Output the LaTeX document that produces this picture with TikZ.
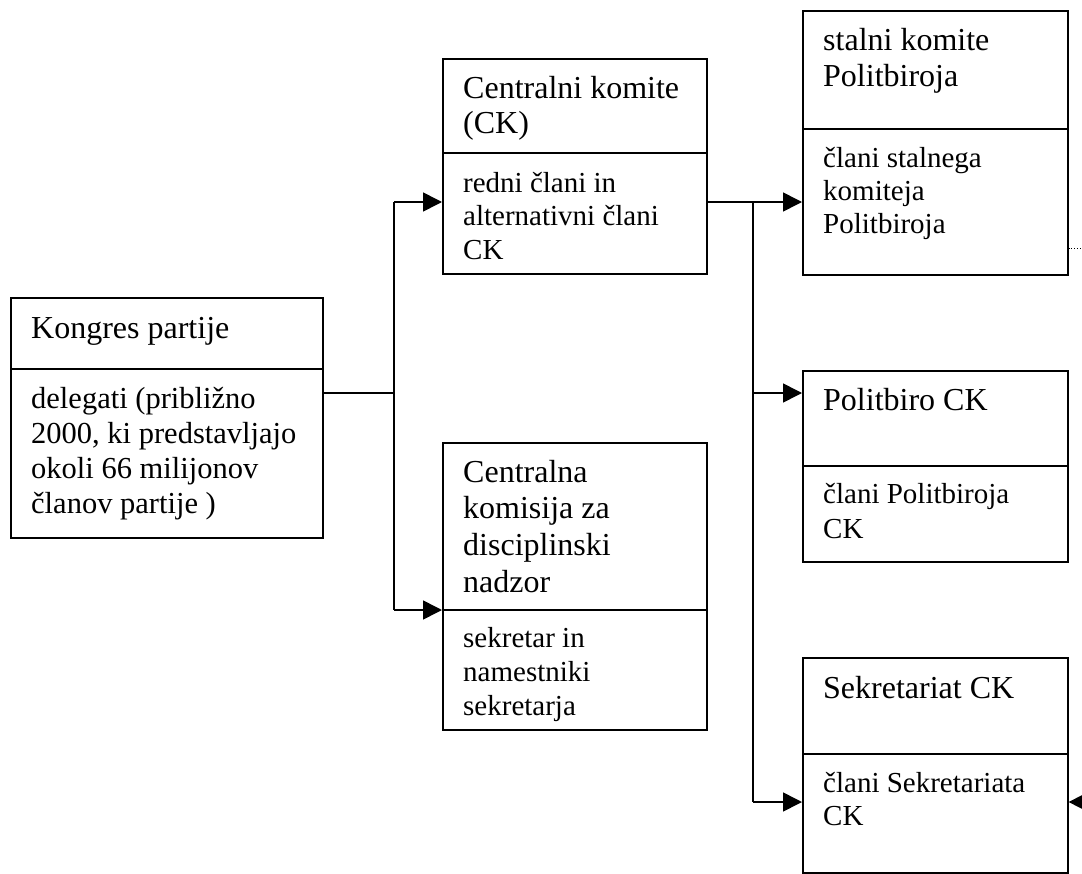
\documentclass[tikz,border=0pt]{standalone}
\usepackage{fontspec}
\setmainfont{Liberation Serif}
\usetikzlibrary{arrows.meta}
\tikzset{
  box/.style={draw, line width=1.6bp, rectangle, inner sep=0pt, anchor=north west},
  conn/.style={line width=1.6bp},
  arr/.style={line width=1.6bp, -{Triangle[length=19bp,width=19bp]}},
  ttl/.style={anchor=base west, inner sep=0pt, font=\fontsize{32bp}{35bp}\selectfont},
  bdy/.style={anchor=base west, inner sep=0pt, font=\fontsize{29bp}{33.5bp}\selectfont},
}
\newcommand\mytwo[2]{\vtop{\hbox{#1}\hbox{#2}}}
\newcommand\mythree[3]{\vtop{\hbox{#1}\hbox{#2}\hbox{#3}}}
\newcommand\myfour[4]{\vtop{\hbox{#1}\hbox{#2}\hbox{#3}\hbox{#4}}}
\begin{document}
\begin{tikzpicture}[x=1bp,y=-1bp]
\useasboundingbox (0,0) rectangle (1082,874);
\clip (0,0) rectangle (1082,874);
% boxes
\node[box, minimum width=312bp, minimum height=240bp] (kon) at (10,297) {};
\node[box, minimum width=264bp, minimum height=215bp] (ck) at (442,58) {};
\node[box, minimum width=264bp, minimum height=287bp] (ckdn) at (442,442) {};
\node[box, minimum width=265bp, minimum height=264bp] (stal) at (802,10) {};
\node[box, minimum width=265bp, minimum height=191bp] (pb) at (802,370) {};
\node[box, minimum width=265bp, minimum height=215bp] (sek) at (802,657) {};
% dividers
\draw[conn] (kon.west |- 0,369) -- (kon.east |- 0,369);
\draw[conn] (ck.west |- 0,153) -- (ck.east |- 0,153);
\draw[conn] (ckdn.west |- 0,610) -- (ckdn.east |- 0,610);
\draw[conn] (stal.west |- 0,129) -- (stal.east |- 0,129);
\draw[conn] (pb.west |- 0,466) -- (pb.east |- 0,466);
\draw[conn] (sek.west |- 0,754) -- (sek.east |- 0,754);
% texts
\node[ttl] (t1) at (31,338) {Kongres partije};
\node[bdy, font=\fontsize{30.5bp}{35bp}\selectfont] (b1) at (31,408) {\myfour{delegati (približno}{2000, ki predstavljajo}{okoli 66 milijonov}{članov partije )}};
\node[ttl] (t2) at (463,98) {\mytwo{Centralni komite}{(CK)}};
\node[bdy] (b2) at (463,192) {\mythree{redni člani in}{alternativni člani}{CK}};
\node[ttl, font=\fontsize{32bp}{36.7bp}\selectfont] (t3) at (463,482) {\myfour{Centralna}{komisija za}{disciplinski}{nadzor}};
\node[bdy, font=\fontsize{29bp}{34bp}\selectfont] (b3) at (463,647) {\mythree{sekretar in}{namestniki}{sekretarja}};
\node[ttl, font=\fontsize{32bp}{36bp}\selectfont] (t4) at (823,50) {\mytwo{stalni komite}{Politbiroja}};
\node[bdy, font=\fontsize{29bp}{33bp}\selectfont] (b4) at (823,167) {\mythree{člani stalnega}{komiteja}{Politbiroja}};
\node[ttl] (t5) at (823,410) {Politbiro CK};
\node[bdy, font=\fontsize{29bp}{35bp}\selectfont] (b5) at (823,503) {\mytwo{člani Politbiroja}{CK}};
\node[ttl] (t6) at (823,698) {Sekretariat CK};
\node[bdy, font=\fontsize{29bp}{33bp}\selectfont] (b6) at (823,792) {\mytwo{člani Sekretariata}{CK}};
% connectors
\coordinate (j0) at (394,393);
\coordinate (a1) at (394,202);
\coordinate (a2) at (394,610);
\coordinate (c1) at (753,202);
\coordinate (c2) at (753,393);
\coordinate (c3) at (753,802);
\coordinate (far) at (1100,802);
\coordinate (dotend) at (1082,248);
\draw[conn] (kon.east |- j0) -- (j0);
\draw[conn] (a1) -- (a2);
\draw[arr] (a1) -- (ck.west |- a1);
\draw[arr] (a2) -- (ckdn.west |- a2);
\draw[conn] (ck.east |- c1) -- (c1);
\draw[conn] (c1) -- (c3);
\draw[arr] (c1) -- (stal.west |- c1);
\draw[arr] (c2) -- (pb.west |- c2);
\draw[arr] (c3) -- (sek.west |- c3);
\draw[arr] (far) -- (sek.east |- far);
\draw[line width=0.8bp, dotted] (stal.east |- dotend) -- (dotend);
\end{tikzpicture}
\end{document}
